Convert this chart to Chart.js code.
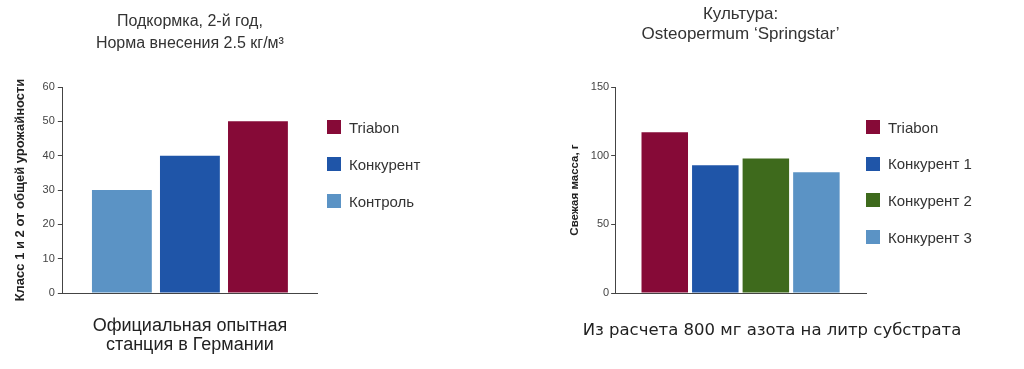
<!DOCTYPE html>
<html lang="ru">
<head>
<meta charset="utf-8">
<title>Triabon</title>
<script src="https://cdn.jsdelivr.net/npm/chart.js@4.4.1/dist/chart.umd.min.js"></script>
<style>
    html, body { margin: 0; padding: 0; background: #fff; }
    body { width: 1024px; height: 369px; position: relative; overflow: hidden; font-family: "Liberation Sans", Arial, sans-serif; }
    .box { position: absolute; top: 0; }
    .legend { position: absolute; font-size: 15px; color: #333; }
    .legend .item { position: absolute; left: 0; height: 16px; display: flex; align-items: center; white-space: nowrap; }
    .legend .swatch { display: inline-block; width: 14px; height: 14px; margin-right: 8px; }
</style>
</head>
<body>
<div class="box" id="leftBox" style="left:0;width:345px;height:369px;"><canvas id="leftChart" width="345" height="369"></canvas></div>
<div class="box" id="rightBox" style="left:540px;width:464px;height:369px;"><canvas id="rightChart" width="464" height="369"></canvas></div>
<div class="legend" id="leftLegend" style="left:327px;top:119px;"></div>
<div class="legend" id="rightLegend" style="left:866px;top:119px;"></div>
<script>
// left chart: подкормка, 2-й год
const leftTitle = ['Подкормка, 2-й год,', 'Норма внесения 2.5 кг/м³'];
const leftAxisTitle = 'Класс 1 и 2 от общей урожайности';
const leftXTitle = ['Официальная опытная', 'станция в Германии'];
const leftSeries = ['Контроль', 'Конкурент', 'Triabon'];
const leftValues = [30, 40, 50];
const leftColors = ['#5b93c5', '#1f55a8', '#860a37'];

// right chart: Osteopermum
const rightTitle = ['Культура:', 'Osteopermum ‘Springstar’'];
const rightAxisTitle = 'Свежая масса, г';
const rightXTitle = 'Из расчета 800 мг азота на литр субстрата';
const rightSeries = ['Triabon', 'Конкурент 1', 'Конкурент 2', 'Конкурент 3'];
const rightValues = [117, 93, 98, 88];
const rightColors = ['#860a37', '#1f55a8', '#3e6a1c', '#5b93c5'];

const textColor = '#333';
const axisColor = '#444';
const fontFamily = '"Liberation Sans", Arial, sans-serif';

Chart.defaults.font.family = fontFamily;
Chart.defaults.color = textColor;

// caption under the plot, centred on the whole canvas and not squeezed to the axis width
const captionPlugin = {
    id: 'caption',
    afterDraw(chart, args, opts) {
        if (!opts.text) return;
        const ctx = chart.ctx;
        ctx.save();
        ctx.font = opts.font;
        ctx.fillStyle = opts.color;
        ctx.textAlign = 'center';
        ctx.textBaseline = 'middle';
        ctx.fillText(opts.text, chart.width / 2, opts.y);
        ctx.restore();
    }
};

function makeDatasets(series, values, colors) {
    return series.map((name, i) => ({
        label: name,
        data: [values[i]],
        backgroundColor: colors[i],
        borderWidth: 0
    }));
}

function buildLegend(el, series, colors, reverse, step) {
    const idx = series.map((_, i) => i);
    if (reverse) idx.reverse();
    idx.forEach((i, n) => {
        const item = document.createElement('div');
        item.className = 'item';
        item.style.top = (n * step) + 'px';
        const sw = document.createElement('span');
        sw.className = 'swatch';
        sw.style.background = colors[i];
        item.appendChild(sw);
        item.appendChild(document.createTextNode(series[i]));
        el.appendChild(item);
    });
}

function makeChart(ctx, cfg) {
    return new Chart(ctx, {
        type: 'bar',
        data: {
            labels: [''],
            datasets: makeDatasets(cfg.series, cfg.values, cfg.colors)
        },
        plugins: [captionPlugin],
        options: {
            responsive: false,
            animation: false,
            layout: { padding: cfg.padding },
            categoryPercentage: cfg.cp,
            barPercentage: cfg.bp,
            plugins: {
                legend: { display: false },
                tooltip: { enabled: false },
                title: {
                    display: true,
                    text: cfg.title,
                    fullSize: false,
                    color: textColor,
                    font: { size: cfg.titleFont, weight: 'normal', lineHeight: cfg.titleLine },
                    padding: cfg.titlePad
                },
                caption: cfg.caption || {}
            },
            scales: {
                x: {
                    grid: { display: false, drawTicks: false },
                    border: { display: true, color: axisColor, width: 1 },
                    ticks: { display: false },
                    title: {
                        display: !!cfg.xTitle,
                        text: cfg.xTitle || '',
                        color: '#222',
                        font: { size: cfg.xFont, lineHeight: cfg.xLine },
                        padding: cfg.xPad
                    }
                },
                y: {
                    min: 0,
                    max: cfg.max,
                    grid: { drawOnChartArea: false, drawTicks: true, tickLength: cfg.tickLen, color: axisColor },
                    border: { display: true, color: axisColor, width: 1 },
                    ticks: { stepSize: cfg.step, color: axisColor, padding: cfg.tickPad, font: { size: 11 } },
                    title: {
                        display: true,
                        text: cfg.yTitle,
                        color: '#222',
                        font: { size: cfg.yFont, weight: 'bold', lineHeight: 1.2 },
                        padding: { top: 4, bottom: cfg.yTitleGap }
                    }
                }
            }
        }
    });
}

window.leftChart = makeChart(document.getElementById('leftChart').getContext('2d'), {
    series: leftSeries, values: leftValues, colors: leftColors,
    title: leftTitle, xTitle: leftXTitle, yTitle: leftAxisTitle,
    padding: { left: 9, right: 28, top: 0, bottom: 0 },
    titleFont: 16, titleLine: 22 / 16, titlePad: { top: 11, bottom: 32 },
    xFont: 18, xLine: 19 / 18, xPad: { top: 24, bottom: 14 },
    yFont: 13, yTitleGap: 11,
    max: 60, step: 10, tickLen: 5, tickPad: 3,
    cp: 0.803, bp: 0.88
});

window.rightChart = makeChart(document.getElementById('rightChart').getContext('2d'), {
    series: rightSeries, values: rightValues, colors: rightColors,
    title: rightTitle, yTitle: rightAxisTitle,
    caption: { text: rightXTitle, font: '16.5px "DejaVu Sans", sans-serif', color: '#222', y: 331 },
    padding: { left: 24, right: 138, top: 0, bottom: 76 },
    titleFont: 17, titleLine: 20 / 17, titlePad: { top: 4, bottom: 43 },
    yFont: 11.5, yTitleGap: 7,
    max: 150, step: 50, tickLen: 4, tickPad: 2,
    cp: 0.806, bp: 0.92
});

buildLegend(document.getElementById('leftLegend'), leftSeries, leftColors, true, 37);
buildLegend(document.getElementById('rightLegend'), rightSeries, rightColors, false, 36.7);
</script>
</body>
</html>
